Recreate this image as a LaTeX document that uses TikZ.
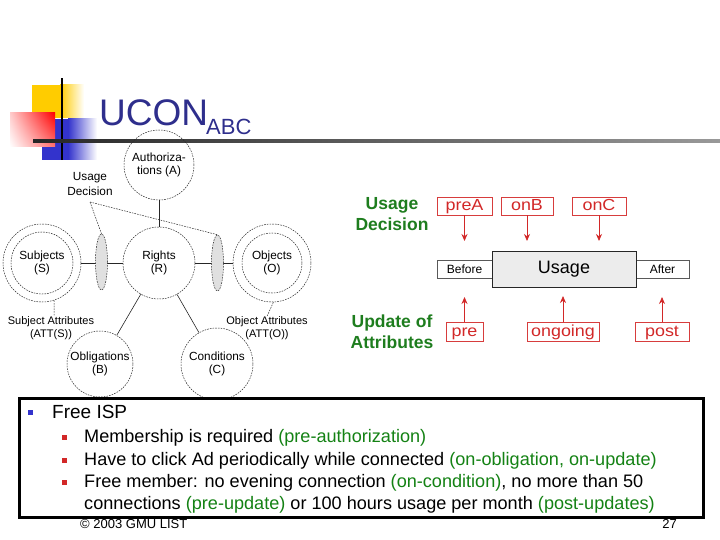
\documentclass[tikz,border=0pt]{standalone}
\usepackage{fontspec}
\setmainfont{Liberation Sans}
\newfontfamily\wideff[FakeStretch=1.12]{Liberation Sans}
\usetikzlibrary{shapes.geometric,arrows.meta,shadings}
\definecolor{navy}{RGB}{46,46,140}
\definecolor{ucred}{RGB}{210,40,40}
\definecolor{ucgreen}{RGB}{30,125,30}
\definecolor{txtgreen}{RGB}{20,130,20}
\definecolor{ydec}{RGB}{255,204,0}
\definecolor{bdec}{RGB}{51,51,204}
\definecolor{rdec}{RGB}{255,0,0}
\definecolor{usagefill}{RGB}{236,236,236}
\begin{document}
\begin{tikzpicture}[x=1pt,y=-1pt,
  dsh/.style={dash pattern=on 1.6pt off 1.1pt, line width=0.5pt, draw=black!85},
  ent/.style={circle, dsh, align=center, inner sep=0pt, minimum size=#1, font=\fontsize{11.8}{13}\selectfont},
  ring/.style={circle, dsh, inner sep=0pt, minimum size=#1},
  lens/.style={ellipse, dsh, fill=black!12, minimum width=12pt, minimum height=56pt, inner sep=0pt},
  link/.style={line width=0.6pt, draw=black!85},
  attr/.style={align=center, font=\fontsize{11}{12.5}\selectfont, inner sep=0pt},
  rbox/.style={draw=ucred!90, line width=0.8pt, text=ucred, font=\wideff\fontsize{16}{17}\selectfont, inner sep=0pt, text height=11.6pt, text depth=3.4pt, minimum height=18pt},
  pbox/.style={draw=black!65, line width=0.7pt, fill=white, font=\fontsize{12}{13}\selectfont, inner sep=0pt, minimum height=18pt},
  rarrow/.style={draw=ucred, line width=0.8pt, -{Stealth[length=7pt,width=6pt]}},
  gtitle/.style={text=ucgreen, font=\bfseries\fontsize{17.5}{21}\selectfont, align=center, inner sep=0pt},
  body/.style={anchor=base west, inner sep=0pt, font=\fontsize{18.1}{20}\selectfont},
  sqbullet/.style={inner sep=0pt, minimum size=5pt, fill=#1}
]
\path[use as bounding box] (0,0) rectangle (720,540);

% ---- decoration ----
\fill[ydec] (32,85) rectangle (60,118);
\shade[left color=ydec, right color=white] (60,85) rectangle (84,118);
\fill[bdec] (42,119) rectangle (68,160);
\shade[left color=bdec, right color=white] (68,119) rectangle (97,160);
\shade[upper right=rdec, upper left=rdec!20, lower left=white, lower right=rdec!55] (10,113) rectangle (55,147);
\fill[black] (61,78) rectangle (63,160);
\shade[left color=black!85, right color=black!40] (33,139.5) rectangle (720,142.5);

% ---- title ----
\node[anchor=base west, inner sep=0pt, text=navy, font=\fontsize{37}{40}\selectfont] (title) at (99,126) {UCON};
\node[anchor=base west, inner sep=0pt, text=navy, font=\fontsize{22}{24}\selectfont] (titlesub) at (206,135) {ABC};

% ---- left diagram ----
\node[ent=70] (A) at (159,165) {Authoriza-\\tions (A)};
\node[ent=72] (R) at (159,263) {Rights\\(R)};
\node[ring=78] (S) at (42,263) {};
\node[ent=62] (Si) at (42,263) {Subjects\\(S)};
\node[ring=78] (O) at (272,263) {};
\node[ent=60] (Oi) at (272,263) {Objects\\(O)};
\node[ent=66] (B) at (100,364) {Obligations\\(B)};
\node[ent=72] (C) at (217,364) {Conditions\\(C)};

\draw[link] (A) -- (R);
\draw[link] (S.east) -- (R.west);
\draw[link] (R.east) -- (O.west);
\draw[link] (R) -- (B);
\draw[link] (R) -- (C);

\node[lens] (L1) at (101.5,262) {};
\node[lens] (L2) at (217.5,263) {};

\node[align=center, font=\fontsize{11.8}{15}\selectfont, inner sep=0pt] (UD) at (90,184) {Usage\\Decision};
\coordinate (UDb) at (90,202);
\draw[dsh] (UDb) -- (L1.north);
\draw[dsh] (UDb) -- (L2.north);

\node[attr] (SA) at (51,328) {Subject Attributes\\(ATT(S))};
\node[attr] (OA) at (267,328) {Object Attributes\\(ATT(O))};
\draw[dsh] (S.-72) -- (SA.north -| 54,0);
\draw[dsh] (O.-88) -- (OA.north);

% ---- right diagram ----
\node[gtitle] (UDg) at (392,214) {Usage\\Decision};
\node[gtitle] (UAg) at (392,332) {Update of\\Attributes};

\node[rbox, minimum width=55pt] (preA) at (464.5,206) {preA};
\node[rbox, minimum width=52pt] (onB) at (527,206) {onB};
\node[rbox, minimum width=54pt] (onC) at (599,206) {onC};

\node[pbox, minimum width=55pt] (before) at (464.5,269) {Before};
\node[pbox, minimum width=53pt] (after) at (662.5,269) {After};
\node[draw=black!85, line width=1pt, fill=usagefill, minimum width=144pt, minimum height=36pt, inner sep=0pt, font=\fontsize{18}{19}\selectfont] (usage) at (564,269) {Usage};

\node[rbox, minimum width=37pt, minimum height=19pt] (pre) at (464.5,332) {pre};
\node[rbox, minimum width=72pt, minimum height=19pt] (ongoing) at (563,332) {ongoing};
\node[rbox, minimum width=54pt, minimum height=19pt] (post) at (662,332) {post};

\coordinate (t1) at (464.5,241);
\coordinate (t2) at (527,241);
\coordinate (t3) at (599,241);
\coordinate (b1) at (464.5,297);
\coordinate (b2) at (563,296);
\coordinate (b3) at (662,297);
\draw[rarrow] (preA.south) -- (t1);
\draw[rarrow] (onB.south) -- (t2);
\draw[rarrow] (onC.south) -- (t3);
\draw[rarrow] (pre.north) -- (b1);
\draw[rarrow] (ongoing.north) -- (b2);
\draw[rarrow] (post.north) -- (b3);

% ---- text box ----
\node[draw=black, line width=3pt, fill=white, minimum width=684pt, minimum height=119pt, inner sep=0pt, anchor=north west] (tbox) at (18,397) {};
\node[sqbullet=bdec] (bl0) at (30,412.5) {};
\node[body, font=\fontsize{19}{20}\selectfont] (l0) at (52,418) {Free ISP};
\node[sqbullet=ucred] (bl1) at (64.5,437.5) {};
\node[sqbullet=ucred] (bl2) at (64.5,460.5) {};
\node[sqbullet=ucred] (bl3) at (64.5,482.5) {};
\node[body] (l1) at (84,442) {Membership is required \textcolor{txtgreen}{(pre-authorization)}};
\node[body] (l2) at (84,465) {Have to click Ad periodically while connected \textcolor{txtgreen}{(on-obligation, on-update)}};
\node[body] (l3) at (84,487) {Free member: no evening connection \textcolor{txtgreen}{(on-condition)}, no more than 50};
\node[body] (l4) at (84,509) {connections \textcolor{txtgreen}{(pre-update)} or 100 hours usage per month \textcolor{txtgreen}{(post-updates)}};

\node[anchor=base west, inner sep=0pt, font=\fontsize{13}{14}\selectfont] (foot) at (80,528) {© 2003 GMU LIST};
\node[anchor=base east, inner sep=0pt, font=\fontsize{13}{14}\selectfont] (page) at (677,528) {27};
\end{tikzpicture}
\end{document}
